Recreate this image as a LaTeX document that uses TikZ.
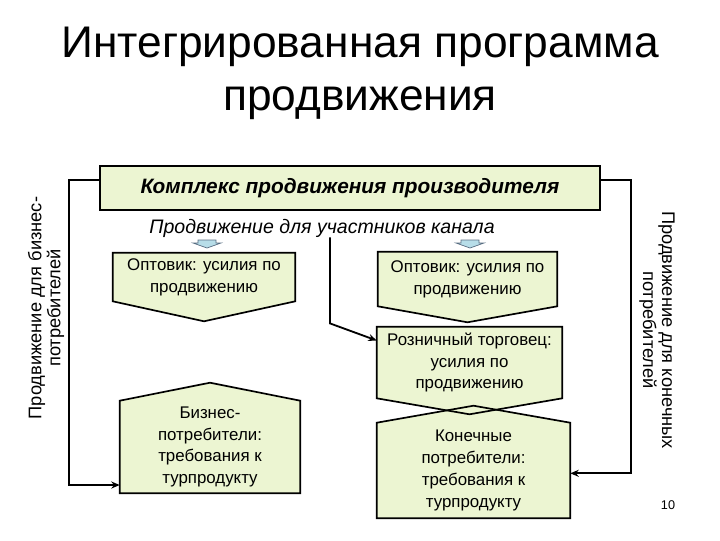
\documentclass[tikz,border=0pt]{standalone}
\usepackage{fontspec}
\setmainfont{Liberation Sans}
\usetikzlibrary{backgrounds,arrows.meta}
\definecolor{boxgreen}{RGB}{236,245,210}
\definecolor{tipblue}{RGB}{183,221,232}
\definecolor{tipline}{RGB}{90,110,130}

% блок с острием вниз: имя узла, глубина острия
\newcommand\downbox[2]{%
  \begin{scope}[on background layer]
    \fill[boxgreen] (#1.north west) -- (#1.north east) -- (#1.south east) -- ([yshift=-#2]#1.south) -- (#1.south west) -- cycle;
  \end{scope}
  \draw[boxline] (#1.north west) -- (#1.north east) -- (#1.south east) -- ([yshift=-#2]#1.south) -- (#1.south west) -- cycle;}
% блок с острием вверх
\newcommand\upbox[2]{%
  \begin{scope}[on background layer]
    \fill[boxgreen] (#1.south west) -- (#1.north west) -- ([yshift=#2]#1.north) -- (#1.north east) -- (#1.south east) -- cycle;
  \end{scope}
  \draw[boxline] (#1.south west) -- (#1.north west) -- ([yshift=#2]#1.north) -- (#1.north east) -- (#1.south east) -- cycle;}

\begin{document}
\begin{tikzpicture}[x=0.025cm, y=-0.025cm, >={Stealth[length=6pt,width=5pt]}, line join=miter,
	boxline/.style={line width=1.2pt},
	txt/.style={align=center, inner sep=0pt, font=\fontsize{12}{15.5}\selectfont},
	side/.style={align=center, inner sep=0pt, font=\fontsize{13}{13.5}\selectfont},
	link/.style={->, line width=1.6pt},
	tip/.style={fill=tipblue, draw=tipline, line width=0.5pt}]
	\useasboundingbox (0,0) rectangle (720,540);

	% заголовок
	\node[align=center, font=\fontsize{31.5}{37.5}\selectfont] (title) at (360,73) {Интегрированная программа\\продвижения};

	\node[draw, boxline, fill=boxgreen, minimum width=12.5cm, minimum height=1.1cm,
		font=\fontsize{14.8}{16}\selectfont\bfseries\itshape] (hdr) at (350,188) {Комплекс продвижения производителя};
	\node[font=\fontsize{13.9}{15}\selectfont\itshape, inner sep=0pt] (chan) at (322,228) {Продвижение для участников канала};

	% блоки
	\node[txt, minimum width=4.55cm, minimum height=1.2cm] (opt1) at (204,277) {Оптовик: усилия по\\продвижению};
	\node[txt, minimum width=4.475cm, minimum height=1.35cm] (opt2) at (467.5,279) {Оптовик: усилия по\\продвижению};
	\node[txt, minimum width=4.625cm, minimum height=1.775cm] (ret) at (469.5,362.5) {Розничный торговец:\\усилия по\\продвижению};
	\node[txt, minimum width=4.825cm, minimum height=2.375cm] (cons) at (473.5,470.5) {Конечные\\потребители:\\требования к\\турпродукту};
	\node[txt, minimum width=4.5cm, minimum height=2.3cm] (biz) at (210,447) {Бизнес-\\потребители:\\требования к\\турпродукту};
	\downbox{opt1}{0.5cm}
	\downbox{opt2}{0.4cm}
	\downbox{ret}{0.4cm}
	\upbox{cons}{0.425cm}
	\upbox{biz}{0.45cm}

	% маленькие стрелки
	\foreach \p in {(207,240),(470,240)}
		\draw[tip] \p ++(-9,0) -- ++(18,0) -- ++(0,3) -- ++(5,0) -- ++(-14,5) -- ++(-14,-5) -- ++(5,0) -- cycle;

	% связи
	\draw[link] ([yshift=0.2cm]hdr.west) -- ++(-30,0) |- ([yshift=-0.95cm]biz.west);
	\draw[link] ([yshift=0.2cm]hdr.east) -- ++(30,0) |- ([yshift=-0.07cm]cons.east);
	\draw[link, line width=1.3pt] ([xshift=0.2cm]chan.south) -- ++(0,86) -- ([yshift=0.55cm]ret.west);

	% подписи сбоку
	\node[side, rotate=90] (lside) at (46,308) {Продвижение для бизнес-\\потребителей};
	\node[side, rotate=-90] (rside) at (657,330) {Продвижение для конечных\\потребителей};
	\node[font=\fontsize{9}{10}\selectfont] (pg) at (668,505) {10};
\end{tikzpicture}
\end{document}
